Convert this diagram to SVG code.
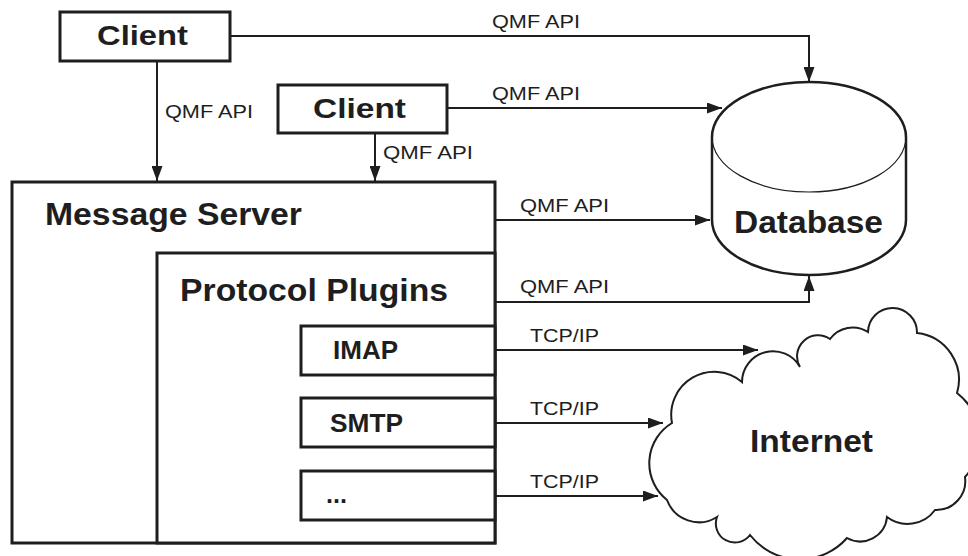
<svg xmlns="http://www.w3.org/2000/svg" width="968" height="556" viewBox="0 0 968 556">
<style>
.box{fill:#fff;stroke:#1e1e1e;stroke-width:3}
.node{font-family:"Liberation Sans",Arial,sans-serif;font-weight:bold;fill:#1e1e1e}
.lbl{font-family:"Liberation Sans",Arial,sans-serif;font-size:19px;fill:#1e1e1e}
.con{fill:none;stroke:#1e1e1e;stroke-width:2;marker-end:url(#ah)}
</style>
<defs>
<marker id="ah" viewBox="0 0 15 11" refX="15" refY="5.5" markerWidth="15" markerHeight="11" markerUnits="userSpaceOnUse" orient="auto">
<path d="M0,0 L15,5.5 L0,11 z" fill="#1e1e1e"/>
</marker>
</defs>
<rect width="968" height="556" fill="#fff"/>

<g id="internet">
<path d="M672,423 A43,43 0 0 1 742,382 A31,31 0 0 1 800,367 A21,21 0 0 1 830,339 A28,28 0 0 1 868,332 A24.5,24.5 0 0 1 917,333 A47,47 0 0 1 957,393 A58,58 0 0 1 965,477 A29,29 0 0 1 935,510 A34,34 0 0 1 887,517 A27,27 0 0 1 847,538 A63,63 0 0 1 750,535 A19,19 0 0 1 717,517 A34,34 0 0 1 667,500 A47,47 0 0 1 672,423 Z" fill="#fff" stroke="#1e1e1e" stroke-width="2"/>
<text class="node" x="750" y="452" font-size="32" textLength="123" lengthAdjust="spacingAndGlyphs">Internet</text>
</g>

<g id="database">
<path d="M712,137 A97,55 0 0 1 906,137 V220 A97,55 0 0 1 712,220 Z" fill="#fff" stroke="#1e1e1e" stroke-width="2.5"/>
<path d="M712,137 A97,55 0 0 0 906,137" fill="none" stroke="#1e1e1e" stroke-width="1.2"/>
<text class="node" x="734" y="233" font-size="32" textLength="149" lengthAdjust="spacingAndGlyphs">Database</text>
</g>

<g id="client1">
<rect class="box" x="60" y="12" width="170" height="49"/>
<text class="node" x="97" y="45" font-size="28" textLength="91" lengthAdjust="spacingAndGlyphs">Client</text>
</g>

<g id="client2">
<rect class="box" x="278" y="85" width="169" height="48"/>
<text class="node" x="313" y="118" font-size="28" textLength="93" lengthAdjust="spacingAndGlyphs">Client</text>
</g>

<g id="message-server">
<rect class="box" x="12" y="182" width="483" height="361"/>
<text class="node" x="45" y="225" font-size="31" textLength="257" lengthAdjust="spacingAndGlyphs">Message Server</text>
</g>

<g id="protocol-plugins">
<rect class="box" x="157" y="253" width="338" height="290"/>
<text class="node" x="180" y="301" font-size="31" textLength="268" lengthAdjust="spacingAndGlyphs">Protocol Plugins</text>
</g>

<g id="imap">
<rect class="box" x="301" y="326" width="194" height="49"/>
<text class="node" x="333" y="359" font-size="25" textLength="65" lengthAdjust="spacingAndGlyphs">IMAP</text>
</g>

<g id="smtp">
<rect class="box" x="301" y="398" width="194" height="49"/>
<text class="node" x="330" y="432" font-size="25" textLength="73" lengthAdjust="spacingAndGlyphs">SMTP</text>
</g>

<g id="other">
<rect class="box" x="301" y="471" width="194" height="49"/>
<text class="node" x="326" y="503" font-size="25" textLength="21" lengthAdjust="spacingAndGlyphs">...</text>
</g>

<g id="connectors">
<path class="con" d="M157,62 V181"/>
<path class="con" d="M375,134 V181"/>
<path class="con" d="M231,36 H809 V82"/>
<path class="con" d="M448,108 H722"/>
<path class="con" d="M496,220 H710"/>
<path class="con" d="M496,302 H809 V276"/>
<path class="con" d="M496,350 H758"/>
<path class="con" d="M496,423 H663"/>
<path class="con" d="M496,496 H658"/>
<text class="lbl" x="165" y="118" textLength="88" lengthAdjust="spacingAndGlyphs">QMF API</text>
<text class="lbl" x="383" y="159" textLength="90" lengthAdjust="spacingAndGlyphs">QMF API</text>
<text class="lbl" x="492" y="28" textLength="88" lengthAdjust="spacingAndGlyphs">QMF API</text>
<text class="lbl" x="492" y="100" textLength="88" lengthAdjust="spacingAndGlyphs">QMF API</text>
<text class="lbl" x="520" y="212" textLength="89" lengthAdjust="spacingAndGlyphs">QMF API</text>
<text class="lbl" x="520" y="293" textLength="89" lengthAdjust="spacingAndGlyphs">QMF API</text>
<text class="lbl" x="530" y="342" textLength="69" lengthAdjust="spacingAndGlyphs">TCP/IP</text>
<text class="lbl" x="530" y="415" textLength="69" lengthAdjust="spacingAndGlyphs">TCP/IP</text>
<text class="lbl" x="530" y="488" textLength="69" lengthAdjust="spacingAndGlyphs">TCP/IP</text>
</g>
</svg>
